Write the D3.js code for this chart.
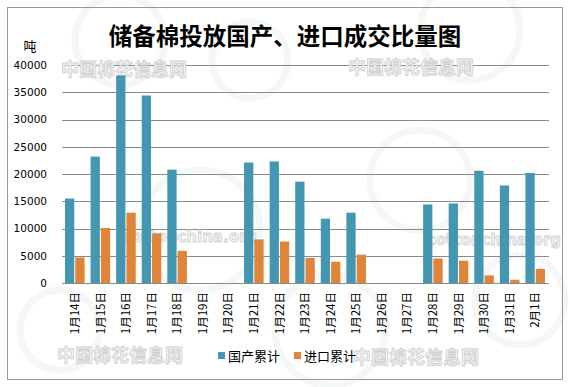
<!DOCTYPE html>
<html>
<head>
<meta charset="utf-8">
<script src="https://cdn.jsdelivr.net/npm/d3@7"></script>
<style>
  body { margin: 0; background: #fff; }
  svg { display: block; }
</style>
</head>
<body>
<svg id="chart" width="570" height="387"></svg>
<script>
var dates = ['1月14日','1月15日','1月16日','1月17日','1月18日','1月19日','1月20日',
  '1月21日','1月22日','1月23日','1月24日','1月25日','1月26日','1月27日',
  '1月28日','1月29日','1月30日','1月31日','2月1日'];
var domestic = [15500, 23200, 38100, 34400, 20800, null, null,
  22100, 22300, 18600, 11800, 12900, null, null,
  14400, 14600, 20600, 17900, 20200];
var imported = [4700, 10100, 12900, 9100, 5900, null, null,
  8000, 7600, 4600, 3900, 5200, null, null,
  4500, 4100, 1400, 600, 2600];
var seriesNames = ['国产累计', '进口累计'];
var yTicks = [0, 5000, 10000, 15000, 20000, 25000, 30000, 35000, 40000];

var colors = ['#4397b3', '#e0843a'];
var svg = d3.select('#chart');

// faint background swirls
var swirl = svg.append('g').attr('fill', 'none').attr('stroke', '#f3f7f6').attr('stroke-width', 7);
[[120, 40, 45], [250, 60, 38], [470, 30, 50], [60, 330, 40], [330, 330, 55], [520, 300, 45], [200, 230, 60], [420, 180, 50]]
  .forEach(function(c) { swirl.append('circle').attr('cx', c[0]).attr('cy', c[1]).attr('r', c[2]); });

svg.append('rect')
  .attr('x', 7.5).attr('y', 7.5).attr('width', 555).attr('height', 372)
  .attr('fill', 'none').attr('stroke', '#999');

var plotLeft = 62, plotRight = 548, plotTop = 65, plotBottom = 283;

var x = d3.scaleBand().domain(dates).range([plotLeft, plotRight]);
var x1 = d3.scaleBand().domain(seriesNames).range([3, x.bandwidth() - 3]).paddingInner(0.1);
var y = d3.scaleLinear().domain([0, 40000]).range([plotBottom, plotTop]);

// gridlines
svg.append('g')
  .attr('transform', 'translate(' + plotLeft + ',0)')
  .call(d3.axisLeft(y).tickValues(yTicks).tickSize(-(plotRight - plotLeft + 1)).tickFormat(''))
  .call(function(g) { g.select('.domain').remove(); })
  .selectAll('line').attr('stroke', '#8a8a8a').attr('shape-rendering', 'crispEdges');

svg.append('g')
  .attr('transform', 'translate(' + (plotLeft - 12) + ',0)')
  .call(d3.axisLeft(y).tickValues(yTicks).tickSize(0).tickFormat(d3.format('d')))
  .call(function(g) { g.select('.domain').remove(); })
  .selectAll('text')
  .attr('font-family', 'DejaVu Sans, Verdana, sans-serif')
  .attr('font-size', '10.5px')
  .attr('fill', '#000');

// watermarks
var wm = svg.append('g')
  .attr('fill', '#f4f4f4').attr('stroke', '#cfcfcf').attr('stroke-width', 0.8)
  .attr('font-weight', 'bold');
[[124, 76], [411, 74], [120, 362], [416, 364]].forEach(function(p) {
  wm.append('text').attr('x', p[0]).attr('y', p[1]).attr('text-anchor', 'middle')
    .attr('font-family', 'Noto Sans CJK SC').attr('font-size', '18px').text('中国棉花信息网');
});
[[190, 242], [494, 245]].forEach(function(p) {
  wm.append('text').attr('x', p[0]).attr('y', p[1]).attr('text-anchor', 'middle')
    .attr('font-family', 'DejaVu Sans').attr('font-size', '15px').text('cottonchina.org');
});

// bars
var rows = dates.map(function(d, i) { return { date: d, values: [domestic[i], imported[i]] }; });
var groups = svg.append('g').selectAll('g').data(rows).enter().append('g')
  .attr('transform', function(d) { return 'translate(' + x(d.date) + ',0)'; });
groups.selectAll('rect')
  .data(function(d) {
    return d.values.map(function(v, k) { return { name: seriesNames[k], value: v, k: k }; })
      .filter(function(e) { return e.value != null; });
  })
  .enter().append('rect')
  .attr('x', function(d) { return x1(d.name); })
  .attr('width', x1.bandwidth())
  .attr('y', function(d) { return y(d.value); })
  .attr('height', function(d) { return plotBottom - y(d.value); })
  .attr('fill', function(d) { return colors[d.k]; });

// x labels
svg.append('g').selectAll('text').data(dates).enter().append('text')
  .attr('transform', function(d) { return 'translate(' + (x(d) + x.bandwidth() / 2) + ',292) rotate(-90)'; })
  .attr('text-anchor', 'end')
  .attr('dy', '0.36em')
  .attr('font-family', 'Noto Sans CJK SC, sans-serif')
  .attr('font-size', '11.5px')
  .attr('fill', '#000')
  .text(function(d) { return d; });

// title & unit
svg.append('text')
  .attr('x', 285).attr('y', 45)
  .attr('text-anchor', 'middle')
  .attr('font-family', 'Noto Sans CJK SC')
  .attr('font-weight', 'bold')
  .attr('font-size', '23.5px')
  .attr('fill', '#000')
  .text('储备棉投放国产、进口成交比量图');

svg.append('text')
  .attr('x', 30).attr('y', 51)
  .attr('text-anchor', 'middle')
  .attr('font-family', 'Noto Sans CJK SC')
  .attr('font-size', '13px')
  .text('吨');

// legend
var legend = svg.append('g').selectAll('g').data(seriesNames).enter().append('g')
  .attr('transform', function(d, i) { return 'translate(' + (218 + i * 76) + ',356)'; });
legend.append('rect')
  .attr('x', 0).attr('y', -4).attr('width', 7).attr('height', 7)
  .attr('fill', function(d, i) { return colors[i]; });
legend.append('text')
  .attr('x', 10).attr('y', 0).attr('dy', '0.36em')
  .attr('font-family', 'Noto Sans CJK SC')
  .attr('font-size', '13px')
  .text(function(d) { return d; });
</script>
</body>
</html>
